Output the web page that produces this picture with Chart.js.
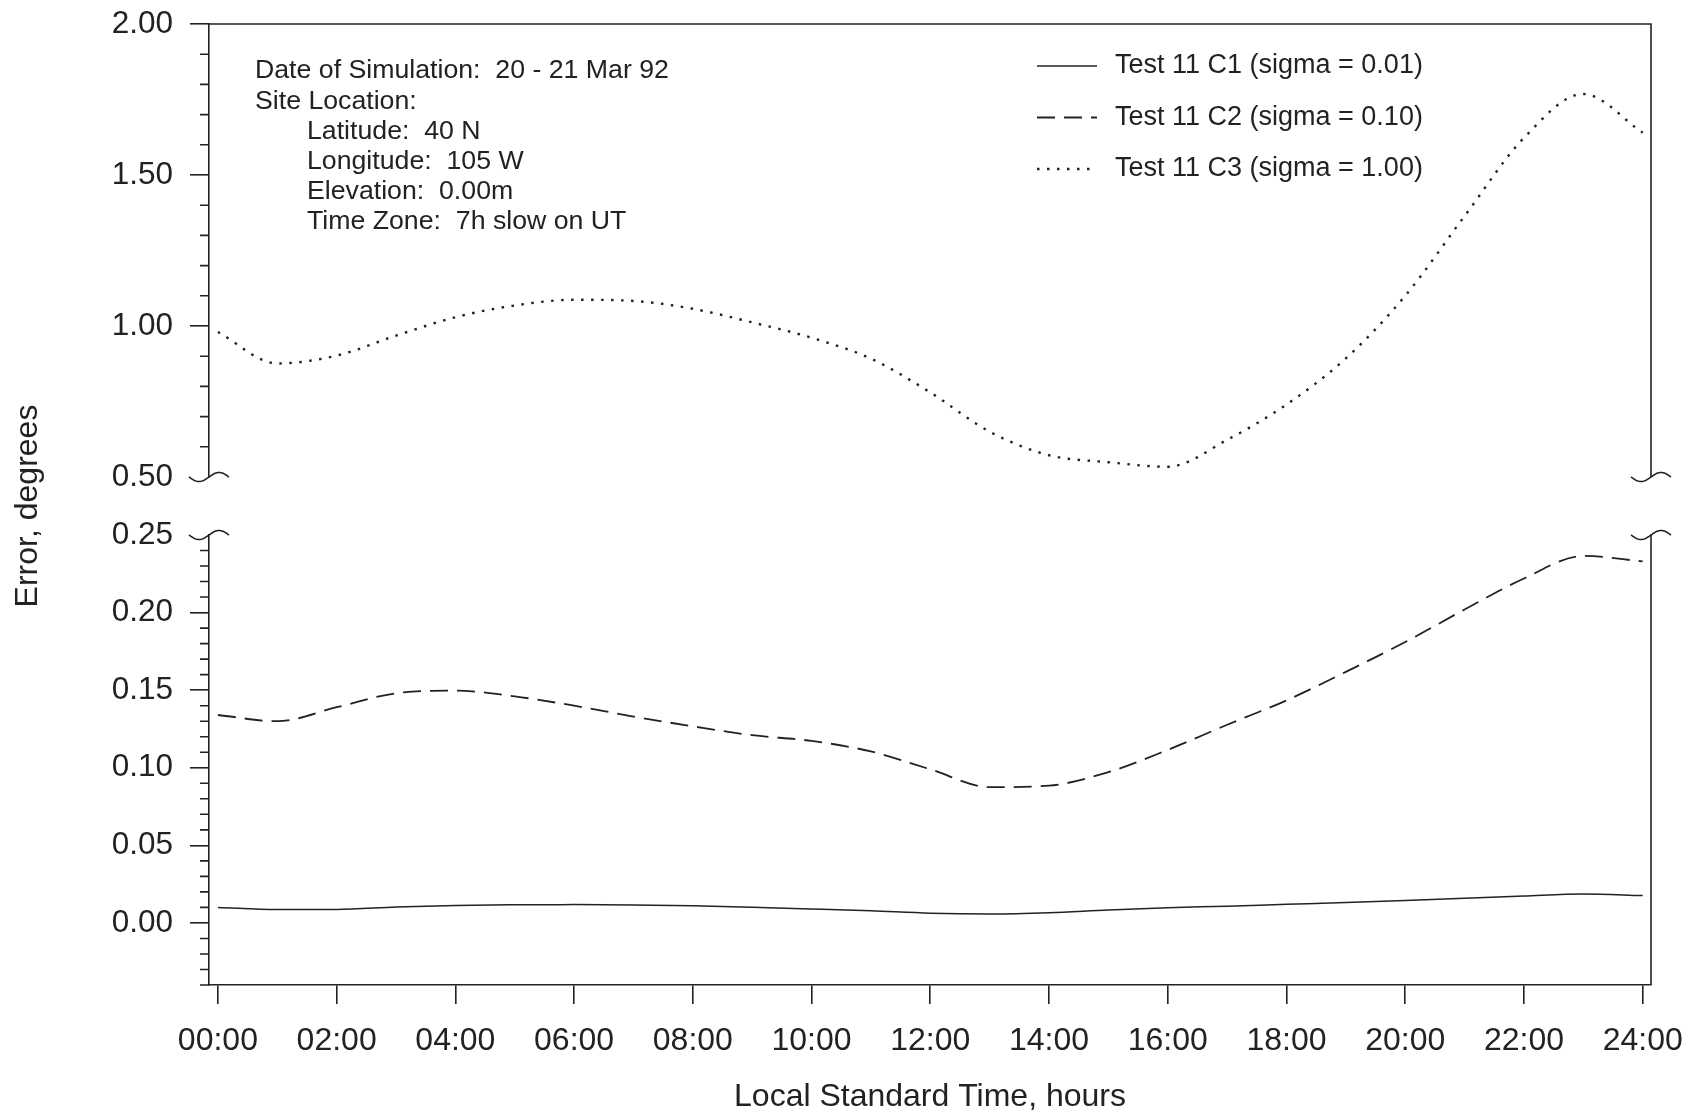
<!DOCTYPE html>
<html>
<head>
<meta charset="utf-8">
<script src="https://cdn.jsdelivr.net/npm/chart.js@4.4.1/dist/chart.umd.min.js"></script>
<style>
body{margin:0;background:#fff}
canvas{display:block}
</style>
</head>
<body>
<canvas id="errChart" width="1688" height="1116"></canvas>
<script>

// hourly samples, 20 - 21 Mar 92
let hours = [0,1,2,3,4,5,6,7,8,9,10,11,12,13,14,15,16,17,18,19,20,21,22,23,24]

let c1 = [0.0100,0.0086,0.0087,0.0102,0.0113,0.0117,0.0118,0.0116,0.0110,0.0101,0.0090,0.0078,0.0063,0.0058,0.0066,0.0084,0.0098,0.0108,0.0120,0.0132,0.0145,0.0159,0.0174,0.0187,0.0176]
let c2 = [0.134,0.130,0.139,0.148,0.1497,0.146,0.140,0.133,0.1267,0.121,0.1173,0.1105,0.099,0.0875,0.0885,0.0972,0.1115,0.1277,0.1434,0.1618,0.181,0.202,0.222,0.2365,0.233]
let c3 = [0.98,0.876,0.902,0.968,1.029,1.068,1.087,1.083,1.057,1.012,0.961,0.892,0.78,0.65,0.572,0.549,0.534,0.623,0.74,0.893,1.10,1.364,1.623,1.768,1.64]

let seriesNames = ["Test 11 C1 (sigma = 0.01)","Test 11 C2 (sigma = 0.10)","Test 11 C3 (sigma = 1.00)"]

let hourTicks = [0,2,4,6,8,10,12,14,16,18,20,22,24]
let upperTicks = [0.5,1.0,1.5,2.0]
let lowerTicks = [0,0.05,0.10,0.15,0.20,0.25]

let siteInfo = [
"Date of Simulation:  20 - 21 Mar 92",
"Site Location:",
"Latitude:  40 N",
"Longitude:  105 W",
"Elevation:  0.00m",
"Time Zone:  7h slow on UT"
]

const ink = "#222"
const font = "'Liberation Sans', Arial, Helvetica, sans-serif"
Chart.defaults.font.family = font
Chart.defaults.color = ink

function isMajor(list, v){
return list.some(t => Math.abs(t - v) < 1e-6)
}

// every minor step between min and max, majors included
function stepTicks(min, max, step){
let out = []
let n = Math.round((max - min) / step)
for(let i=0;i<=n;i++){
out.push({value: +(min + i*step).toFixed(4)})
}
return out
}

function points(vals){
return hours.map((h,i) => ({x:h, y:vals[i]}))
}

// keep the tick labels from pushing the plot frame around
function fixWidth(s){
s.width = 209
s.paddingTop = 0
s.paddingBottom = 0
}

// little "~" where the axis is broken
function breakMark(ctx, x, y){
ctx.beginPath()
for(let t=-1;t<=1.0001;t+=0.05){
let px = x + 20*t
let py = y - 4.5*Math.sin(Math.PI*t)
if(t === -1) ctx.moveTo(px,py)
else ctx.lineTo(px,py)
}
ctx.stroke()
}

const frame = {
id: "frame",
afterDraw(chart){
const ctx = chart.ctx
const a = chart.chartArea
const up = chart.scales.yTop
const lo = chart.scales.yBot

ctx.save()
ctx.strokeStyle = ink
ctx.lineWidth = 1.6

ctx.beginPath()
ctx.moveTo(a.left, a.top)
ctx.lineTo(a.right, a.top)
ctx.lineTo(a.right, up.bottom)
ctx.moveTo(a.right, lo.top)
ctx.lineTo(a.right, a.bottom)
ctx.stroke()

breakMark(ctx, a.left, up.bottom)
breakMark(ctx, a.left, lo.top)
breakMark(ctx, a.right, up.bottom)
breakMark(ctx, a.right, lo.top)

// short minor ticks
ctx.beginPath()
for(const [s, majors] of [[up, upperTicks],[lo, lowerTicks]]){
for(const t of s.ticks){
if(isMajor(majors, t.value)) continue
let py = s.getPixelForValue(t.value)
ctx.moveTo(s.right - 9, py)
ctx.lineTo(s.right, py)
}
}
ctx.stroke()

// site notes
ctx.fillStyle = ink
ctx.font = "26.7px " + font
ctx.textBaseline = "middle"
ctx.textAlign = "left"
siteInfo.forEach((txt,i) => {
ctx.fillText(txt, i < 2 ? 255 : 307, 71 + i*30.2)
})

// legend
ctx.font = "27px " + font
chart.data.datasets.forEach((ds,i) => {
let y = 66 + i*51.5
ctx.save()
ctx.lineWidth = ds.borderWidth
ctx.setLineDash(ds.borderDash || [])
ctx.beginPath()
ctx.moveTo(1037, y)
ctx.lineTo(1097, y)
ctx.stroke()
ctx.restore()
ctx.fillText(ds.label, 1115, y)
})

ctx.restore()
}
}

new Chart(document.getElementById("errChart"), {
type: "line",
data: {
datasets: [
{
label: seriesNames[0],
data: points(c1),
yAxisID: "yBot",
borderColor: ink,
borderWidth: 1.5,
pointRadius: 0,
cubicInterpolationMode: "monotone"
},
{
label: seriesNames[1],
data: points(c2),
yAxisID: "yBot",
borderColor: ink,
borderWidth: 1.8,
borderDash: [18,9],
pointRadius: 0,
cubicInterpolationMode: "monotone"
},
{
label: seriesNames[2],
data: points(c3),
yAxisID: "yTop",
borderColor: ink,
borderWidth: 2.4,
borderDash: [2.5,7.5],
pointRadius: 0,
cubicInterpolationMode: "monotone"
}
]
},
options: {
responsive: false,
animation: false,
devicePixelRatio: 1,
layout: {padding: {top: 24, right: 37, bottom: 0, left: 0}},
plugins: {legend: {display: false}, tooltip: {enabled: false}},
scales: {
x: {
type: "linear",
min: -0.15,
max: 24.14,
afterBuildTicks: s => { s.ticks = hourTicks.map(v => ({value: v})) },
afterFit: s => { s.height = 131; s.paddingLeft = 0; s.paddingRight = 0 },
ticks: {
autoSkip: false,
maxRotation: 0,
padding: 18,
font: {size: 32},
callback: v => String(v).padStart(2,"0") + ":00"
},
grid: {drawOnChartArea: false, tickLength: 19, color: ink, lineWidth: 1.6},
border: {color: ink, width: 1.6},
title: {display: true, text: "Local Standard Time, hours", font: {size: 32}, padding: {top: 0, bottom: 0}}
},
yTop: {
type: "linear",
position: "left",
stack: "err",
stackWeight: 453,
weight: 3,
min: 0.5,
max: 2.0,
afterBuildTicks: s => { s.ticks = stepTicks(0.5, 2.0, 0.1) },
afterFit: fixWidth,
ticks: {
autoSkip: false,
padding: 17,
font: {size: 31.5},
callback: v => isMajor(upperTicks, v) ? v.toFixed(2) : ""
},
grid: {
drawOnChartArea: false,
tickLength: 19,
lineWidth: 1.6,
color: c => (isMajor(upperTicks, c.tick.value) && c.tick.value > 0.5) ? ink : "rgba(0,0,0,0)"
},
border: {color: ink, width: 1.6}
},
yGap: {
type: "linear",
position: "left",
stack: "err",
stackWeight: 58,
weight: 2,
afterFit: fixWidth,
ticks: {display: false},
grid: {display: false},
border: {display: false},
title: {display: true, text: "Error, degrees", font: {size: 32}, padding: {top: 9, bottom: 0}}
},
yBot: {
type: "linear",
position: "left",
stack: "err",
stackWeight: 450,
weight: 1,
min: -0.04,
max: 0.25,
afterBuildTicks: s => { s.ticks = stepTicks(-0.04, 0.25, 0.01) },
afterFit: fixWidth,
ticks: {
autoSkip: false,
padding: 17,
font: {size: 31.5},
callback: v => isMajor(lowerTicks, v) ? v.toFixed(2) : ""
},
grid: {
drawOnChartArea: false,
tickLength: 19,
lineWidth: 1.6,
color: c => (isMajor(lowerTicks, c.tick.value) && c.tick.value < 0.25) ? ink : "rgba(0,0,0,0)"
},
border: {color: ink, width: 1.6}
}
}
},
plugins: [frame]
})

</script>
</body>
</html>
